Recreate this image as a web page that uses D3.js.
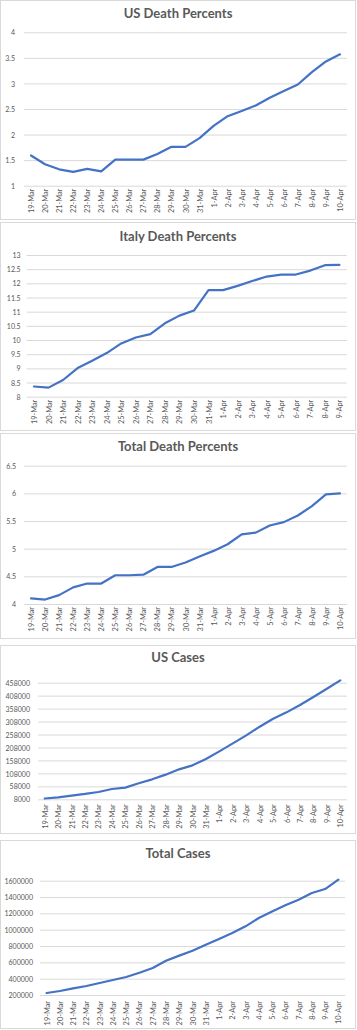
<!DOCTYPE html>
<html><head><meta charset="utf-8">
<script src="https://cdn.jsdelivr.net/npm/d3@7"></script>
<style>
body{margin:0;background:#fff;}
svg{display:block;}
text{font-family:Lato,"Open Sans",sans-serif;}
</style></head>
<body>
<svg id="c" width="357" height="1030"></svg>
<script>
const datesApr10 = ["19-Mar","20-Mar","21-Mar","22-Mar","23-Mar","24-Mar","25-Mar","26-Mar","27-Mar","28-Mar","29-Mar","30-Mar","31-Mar","1-Apr","2-Apr","3-Apr","4-Apr","5-Apr","6-Apr","7-Apr","8-Apr","9-Apr","10-Apr"];
const datesApr9 = datesApr10.slice(0, 22);

const usDeathPct = [1.59,1.42,1.32,1.27,1.33,1.28,1.51,1.51,1.51,1.62,1.76,1.76,1.93,2.17,2.36,2.46,2.57,2.72,2.85,2.98,3.22,3.43,3.57];
const italyDeathPct = [8.36,8.32,8.59,9.01,9.27,9.54,9.88,10.09,10.21,10.59,10.86,11.04,11.76,11.76,11.91,12.08,12.24,12.31,12.31,12.45,12.64,12.65];
const totalDeathPct = [4.10,4.08,4.16,4.30,4.37,4.37,4.52,4.52,4.53,4.67,4.67,4.75,4.86,4.96,5.08,5.26,5.29,5.42,5.48,5.60,5.77,5.98,6.00];
const usCases = [11000,15700,22100,28600,36300,47800,53000,69700,85100,103100,123700,139100,163500,193100,224000,254800,288200,319000,343500,371800,402600,434700,466900];
const totalCases = [224500,249000,281600,310000,347000,383700,420400,473500,530600,620000,682000,743000,816000,886000,959000,1041000,1143000,1224000,1298000,1367000,1449000,1498000,1612000];

const usDeathTicks = [1,1.5,2,2.5,3,3.5,4];
const italyDeathTicks = [8,8.5,9,9.5,10,10.5,11,11.5,12,12.5,13];
const totalDeathTicks = [4,4.5,5,5.5,6,6.5];
const usCasesTicks = [8000,58000,108000,158000,208000,258000,308000,358000,408000,458000];
const totalCasesTicks = [200000,400000,600000,800000,1000000,1200000,1400000,1600000];

const svg = d3.select("#c");
const GRID = "#d9d9d9", TXT = "#595959", LINE = "#4472C4";
const SX = 0.86;

function panel(o){
  const g = svg.append("g");
  g.append("rect").attr("x",0.5).attr("y",o.top+0.5).attr("width",355).attr("height",o.bottom-o.top)
    .attr("fill","#fff").attr("stroke",GRID).attr("stroke-width",1);
  g.append("text").attr("x",178).attr("y",o.titleY).attr("text-anchor","middle")
    .attr("dominant-baseline","middle").attr("font-size",13).attr("font-weight","bold")
    .attr("fill",TXT).text(o.title);
  const x = d3.scaleBand().domain(o.cats).range([o.x0,o.x1]);
  const y = d3.scaleLinear().domain([o.ticks[0], o.ticks[o.ticks.length-1]]).range([o.yb,o.yt]);
  const ya = d3.axisLeft(y).tickValues(o.ticks).tickSize(-(o.x1-o.x0)).tickPadding(o.pad/SX).tickFormat(d=>String(d));
  const ag = g.append("g").attr("transform",`translate(${o.x0},0)`).call(ya);
  ag.select(".domain").remove();
  ag.selectAll(".tick line").attr("stroke",GRID).attr("stroke-width",1);
  ag.selectAll(".tick text").attr("fill",TXT).attr("font-size",8.2).attr("transform",`scale(${SX},1)`);
  const xa = d3.axisBottom(x).tickSize(0).tickPadding(0);
  const xg = g.append("g").attr("transform",`translate(0,${o.yb})`).call(xa);
  xg.select(".domain").remove();
  xg.selectAll(".tick text").attr("fill",TXT).attr("font-size",8.2)
    .attr("text-anchor","end").attr("dy",null).attr("y",null)
    .attr("transform",`translate(3,${o.labGap}) rotate(-90) scale(0.9,1)`);
  const line = d3.line().x((d,i)=>x(o.cats[i])+x.bandwidth()/2).y(d=>y(d));
  g.append("path").datum(o.vals).attr("d",line).attr("fill","none")
    .attr("stroke",LINE).attr("stroke-width",2.2).attr("stroke-linejoin","round").attr("stroke-linecap","round");
}

panel({top:0,bottom:219,title:"US Death Percents",titleY:15,cats:datesApr10,vals:usDeathPct,ticks:usDeathTicks,
  x0:24,x1:347,yt:32.3,yb:185.7,pad:9,labGap:3});
panel({top:222,bottom:430,title:"Italy Death Percents",titleY:238,cats:datesApr9,vals:italyDeathPct,ticks:italyDeathTicks,
  x0:26.7,x1:346.7,yt:255,yb:396.7,pad:6,labGap:3});
panel({top:433,bottom:638,title:"Total Death Percents",titleY:448,cats:datesApr10,vals:totalDeathPct,ticks:totalDeathTicks,
  x0:24,x1:347,yt:465.7,yb:604,pad:8,labGap:3});
panel({top:645,bottom:833,title:"US Cases",titleY:659,cats:datesApr10,vals:usCases,ticks:usCasesTicks,
  x0:38,x1:347,yt:682.7,yb:799.3,pad:8,labGap:5});
panel({top:840,bottom:1028,title:"Total Cases",titleY:855,cats:datesApr10,vals:totalCases,ticks:totalCasesTicks,
  x0:40,x1:345,yt:880.7,yb:995,pad:7,labGap:6});
</script>
</body></html>
